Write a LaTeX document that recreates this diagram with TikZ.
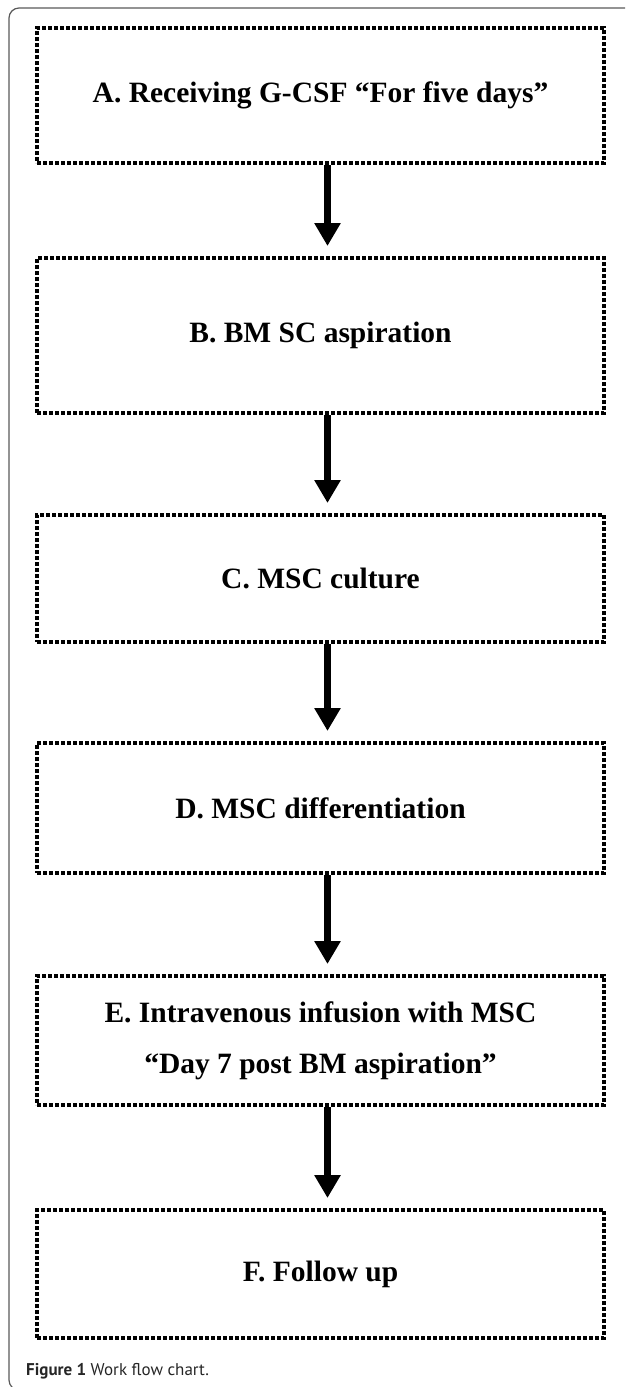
\documentclass[tikz,border=0pt]{standalone}
\usepackage{fontspec}
\setmainfont{Liberation Serif}
\newfontfamily\capfont{PT Sans}
\usetikzlibrary{arrows.meta}

\tikzset{
  stage/.style={draw, line width=4pt, dash pattern=on 4pt off 2pt,
    minimum width=567pt, inner sep=0pt, align=center,
    font=\fontsize{29.5}{51}\selectfont\bfseries},
  flow/.style={line width=7pt, -{Triangle[width=25pt,length=23pt]},
    shorten >=10pt}
}

\begin{document}
\begin{tikzpicture}[x=1pt,y=-1pt]
    \useasboundingbox (0,0) rectangle (625,1387);
    % outer frame
    \begin{scope}
        \clip (0,0) rectangle (625,1387);
        \draw[black!65, line width=1.2pt, rounded corners=10pt] (9,8) rectangle (640,1390);
    \end{scope}
    \node[stage, minimum height=135pt] (a) at (320.5,95.5) {A. Receiving G-CSF “For five days”};
    \node[stage, minimum height=155pt] (b) at (320.5,335.5) {B. BM SC aspiration};
    \node[stage, minimum height=127pt] (c) at (320.5,578.5) {C. MSC culture};
    \node[stage, minimum height=130pt] (d) at (320.5,808) {D. MSC differentiation};
    \node[stage, minimum height=129pt] (e) at (320.5,1040.5) {E. Intravenous infusion with MSC\\“Day 7 post BM aspiration”};
    \node[stage, minimum height=128pt] (f) at (320.5,1274) {F. Follow up};
    \foreach \s/\t in {a/b,b/c,c/d,d/e,e/f}
        \draw[flow] ([xshift=7pt]\s.south) -- ([xshift=7pt]\t.north);
    \node[anchor=base west, inner sep=0pt, text=black!85,
        font=\capfont\fontsize{17}{20}\selectfont] (cap) at (26,1375) {\textbf{Figure 1} Work flow chart.};
\end{tikzpicture}
\end{document}
